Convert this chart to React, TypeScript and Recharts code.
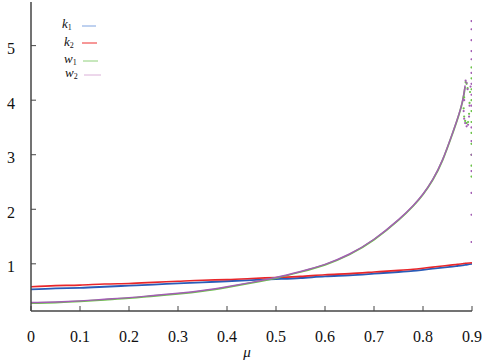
import React from 'react'
import { ComposedChart, Line, Scatter, XAxis, YAxis } from 'recharts'

// mu values shared by the smooth curves
const mu = [0, 0.05, 0.1, 0.15, 0.2, 0.25, 0.3, 0.35, 0.4, 0.45, 0.5, 0.55, 0.6, 0.65, 0.7, 0.75, 0.78, 0.8, 0.82, 0.84, 0.86, 0.87, 0.88, 0.886]
const k1Vals = [0.53, 0.55, 0.56, 0.58, 0.6, 0.62, 0.64, 0.66, 0.68, 0.7, 0.72, 0.74, 0.77, 0.79, 0.82, 0.85, 0.87, 0.89, 0.91, 0.93, 0.95, 0.96, 0.97, 0.98]
const k2Vals = [0.58, 0.6, 0.61, 0.63, 0.64, 0.66, 0.68, 0.7, 0.71, 0.73, 0.75, 0.77, 0.8, 0.82, 0.85, 0.88, 0.9, 0.92, 0.94, 0.96, 0.98, 0.99, 1.0, 1.01]
const w1Vals = [0.28, 0.29, 0.31, 0.34, 0.37, 0.41, 0.45, 0.5, 0.57, 0.65, 0.74, 0.85, 0.98, 1.17, 1.44, 1.8, 2.06, 2.27, 2.54, 2.9, 3.38, 3.64, 3.95, 4.25]
const w2Vals = [0.29, 0.3, 0.32, 0.35, 0.38, 0.42, 0.46, 0.51, 0.58, 0.66, 0.75, 0.86, 0.99, 1.18, 1.45, 1.81, 2.07, 2.28, 2.55, 2.91, 3.39, 3.65, 3.96, 4.27]
const kTailMu = [0.9]
const k1Tail = [1.0]
const k2Tail = [1.02]

// scattered points near mu = 0.9
const w1TailMu = [0.887, 0.889, 0.891, 0.884, 0.883, 0.884, 0.886, 0.889, 0.892, 0.894, 0.895, 0.896,
  0.899, 0.899, 0.899, 0.899, 0.899, 0.899, 0.899, 0.899, 0.899, 0.899, 0.899]
const w1TailVal = [4.33, 4.3, 4.22, 4.05, 3.85, 3.7, 3.62, 3.58, 3.6, 3.75, 3.95, 4.15,
  2.6, 2.8, 3.0, 3.2, 3.4, 3.6, 3.8, 4.0, 4.2, 4.4, 4.6]
const w2TailMu = [0.887, 0.889, 0.891, 0.884, 0.883, 0.884, 0.886, 0.889, 0.892, 0.894, 0.895, 0.897,
  0.899, 0.899, 0.899, 0.899, 0.899, 0.899, 0.899, 0.899, 0.899, 0.899, 0.899, 0.899, 0.899, 0.899, 0.899, 0.899]
const w2TailVal = [4.36, 4.32, 4.2, 4.0, 3.8, 3.66, 3.58, 3.52, 3.55, 3.7, 3.9, 4.25,
  5.45, 5.3, 5.1, 4.9, 4.75, 4.5, 4.3, 4.1, 3.9, 3.5, 3.25, 3.0, 2.7, 2.3, 1.9, 1.4]

const xTicks = [0, 0.1, 0.2, 0.3, 0.4, 0.5, 0.6, 0.7, 0.8, 0.9]
const yTicks = [1, 2, 3, 4, 5]

const pts = (xs: number[], ys: number[]) => xs.map((x, i) => ({ x, y: ys[i] }))
const k1Data = pts([...mu, ...kTailMu], [...k1Vals, ...k1Tail])
const k2Data = pts([...mu, ...kTailMu], [...k2Vals, ...k2Tail])
const w1Data = pts(mu, w1Vals)
const w2Data = pts(mu, w2Vals)
const w1Scatter = pts(w1TailMu, w1TailVal)
const w2Scatter = pts(w2TailMu, w2TailVal)

const SERIF = { fontFamily: "'Liberation Serif', 'Times New Roman', serif" }
const AXIS = '#444'

function BottomTick(props: any) {
  const { x, y, payload } = props
  return (
    <g>
      <line x1={x} x2={x} y1={y} y2={y - 5} stroke={AXIS} />
      <text x={x} y={y + 31} textAnchor="middle" style={SERIF} fontSize={16} fill="#111">
        {String(payload.value)}
      </text>
    </g>
  )
}
function TopTick(props: any) {
  const { x, y } = props
  return <line x1={x} x2={x} y1={y} y2={y + 5} stroke={AXIS} />
}
function LeftTick(props: any) {
  const { x, y, payload } = props
  return (
    <g>
      <line x1={x} x2={x + 5} y1={y} y2={y} stroke={AXIS} />
      <text x={x - 16} y={y + 8.5} textAnchor="end" style={SERIF} fontSize={16} fill="#111">
        {String(payload.value)}
      </text>
    </g>
  )
}
function RightTick(props: any) {
  const { x, y } = props
  return <line x1={x} x2={x - 5} y1={y} y2={y} stroke={AXIS} />
}

const dotShape = (color: string) => (p: any) => <circle cx={p.cx} cy={p.cy} r={1.1} fill={color} />

const legend = [
  { name: 'k', sub: '1', x: 62, y: 28, color: '#7fa3e0', lx: 82, lw: 14, ly: 26 },
  { name: 'k', sub: '2', x: 64, y: 46, color: '#ee3030', lx: 82, lw: 15, ly: 43 },
  { name: 'w', sub: '1', x: 64, y: 63, color: '#8fd07a', lx: 83, lw: 15, ly: 61 },
  { name: 'w', sub: '2', x: 65, y: 77, color: '#dbb0d8', lx: 84, lw: 17, ly: 75 },
]

export default function App() {
  return (
    <div style={{ position: 'absolute', left: 0, top: 0, width: 491, height: 363, background: '#fff' }}>
      <ComposedChart width={491} height={363} margin={{ top: 2, right: 19, left: 0, bottom: 0 }}>
        <XAxis
          xAxisId="b"
          type="number"
          dataKey="x"
          domain={[0, 0.9]}
          ticks={xTicks}
          height={52}
          tickSize={0}
          tickMargin={0}
          tickLine={false}
          axisLine={{ stroke: AXIS, strokeWidth: 1.5 }}
          tick={<BottomTick />}
          allowDataOverflow
        />
        <XAxis
          xAxisId="t"
          orientation="top"
          type="number"
          dataKey="x"
          domain={[0, 0.9]}
          ticks={xTicks}
          height={0}
          tickSize={0}
          tickMargin={0}
          tickLine={false}
          axisLine={{ stroke: AXIS, strokeWidth: 1.5 }}
          tick={<TopTick />}
          allowDataOverflow
        />
        <YAxis
          yAxisId="l"
          type="number"
          domain={[0.135, 5.8]}
          ticks={yTicks}
          width={31}
          tickSize={0}
          tickMargin={0}
          tickLine={false}
          axisLine={{ stroke: AXIS, strokeWidth: 1.5 }}
          tick={<LeftTick />}
          allowDataOverflow
        />
        <YAxis
          yAxisId="r"
          orientation="right"
          type="number"
          domain={[0.135, 5.8]}
          ticks={yTicks}
          width={0}
          tickSize={0}
          tickMargin={0}
          tickLine={false}
          axisLine={{ stroke: AXIS, strokeWidth: 1.5 }}
          tick={<RightTick />}
          allowDataOverflow
        />
        <Line xAxisId="b" yAxisId="l" data={k1Data} dataKey="y" type="natural" stroke="#2a5cb8" strokeWidth={1.8} dot={false} isAnimationActive={false} />
        <Line xAxisId="b" yAxisId="l" data={k2Data} dataKey="y" type="natural" stroke="#e8262a" strokeWidth={1.6} dot={false} isAnimationActive={false} />
        <Line xAxisId="b" yAxisId="l" data={w1Data} dataKey="y" type="natural" stroke="#6cc24a" strokeWidth={1.8} dot={false} isAnimationActive={false} />
        <Line xAxisId="b" yAxisId="l" data={w2Data} dataKey="y" type="natural" stroke="#a35eb4" strokeWidth={1.4} dot={false} isAnimationActive={false} />
        <Scatter xAxisId="b" yAxisId="l" data={w1Scatter} dataKey="y" shape={dotShape('#6cc24a')} isAnimationActive={false} />
        <Scatter xAxisId="b" yAxisId="l" data={w2Scatter} dataKey="y" shape={dotShape('#a35eb4')} isAnimationActive={false} />
      </ComposedChart>
      <svg width={491} height={363} style={{ position: 'absolute', left: 0, top: 0, pointerEvents: 'none' }}>
        {legend.map((l) => (
          <g key={l.name + l.sub}>
            <text x={l.x} y={l.y} style={SERIF} fontStyle="italic" fontSize={13} fill="#111">
              {l.name}
              <tspan fontSize={8} dy={2} fontStyle="normal">{l.sub}</tspan>
            </text>
            <line x1={l.lx} x2={l.lx + l.lw} y1={l.ly} y2={l.ly} stroke={l.color} strokeWidth={1} />
          </g>
        ))}
        <text x={247} y={357} textAnchor="middle" style={SERIF} fontStyle="italic" fontSize={15} fill="#111">
          μ
        </text>
      </svg>
    </div>
  )
}
